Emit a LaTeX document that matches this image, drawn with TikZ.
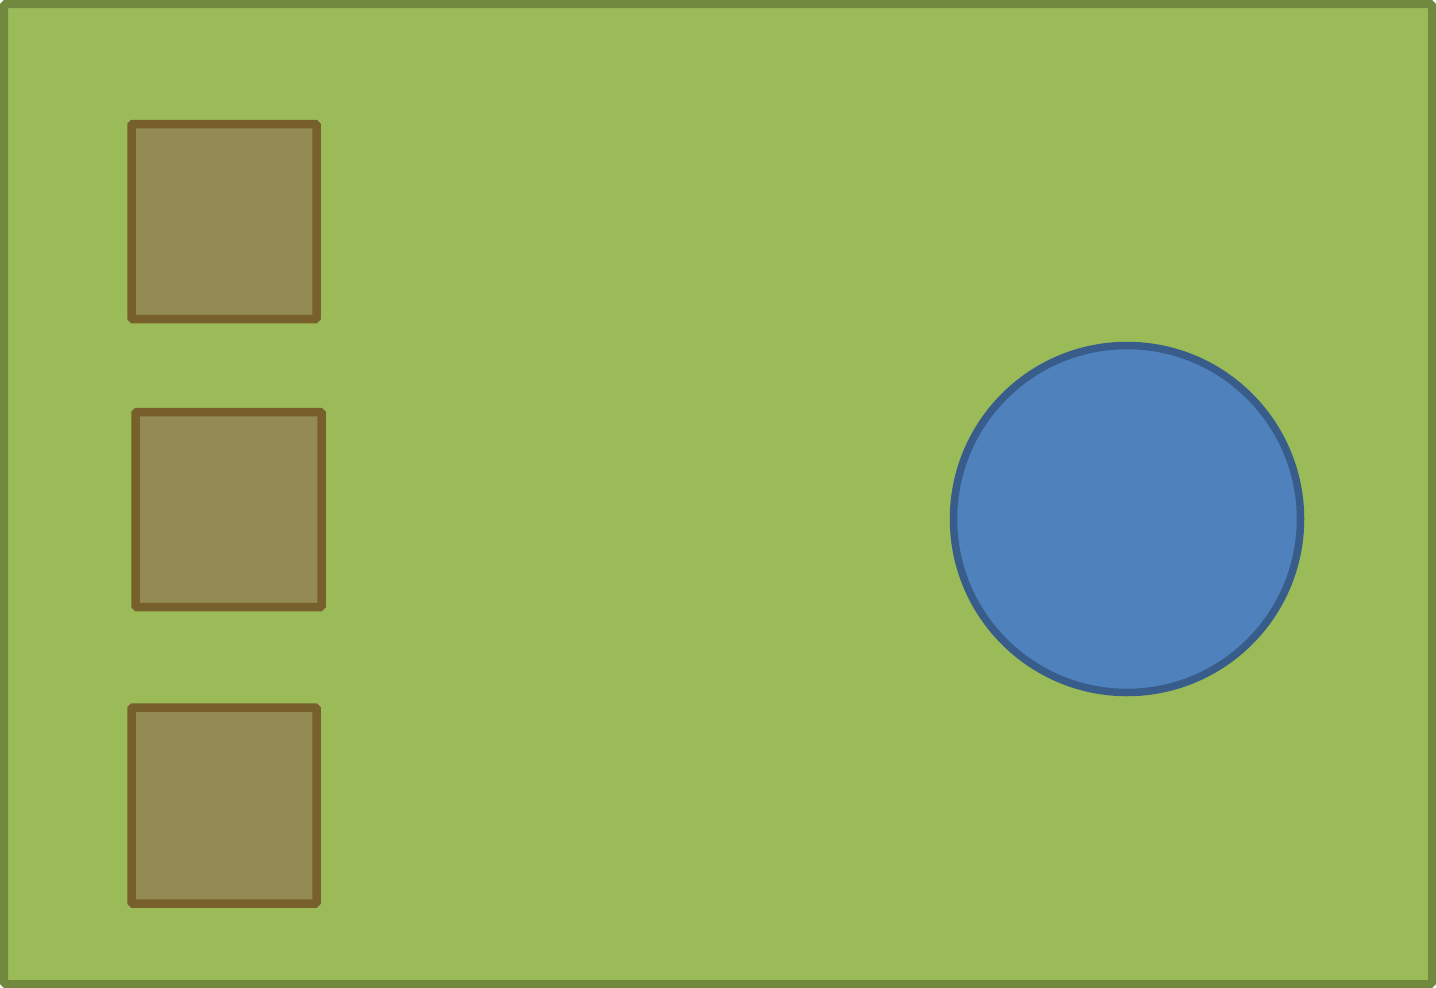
\documentclass[tikz,border=0pt]{standalone}
\definecolor{bggreen}{HTML}{9BBB59}
\definecolor{bgedge}{HTML}{71893F}
\definecolor{boxfill}{HTML}{948A54}
\definecolor{boxedge}{HTML}{77602B}
\definecolor{circfill}{HTML}{4F81BD}
\definecolor{circedge}{HTML}{385D8A}
\tikzset{
  field/.style={fill=bggreen, draw=bgedge, line width=8pt, rounded corners=1.5pt},
  crate/.style={fill=boxfill, draw=boxedge, line width=8.5pt, rounded corners=1.5pt},
  pond/.style={fill=circfill, draw=circedge, line width=7.5pt}
}
\begin{document}
\begin{tikzpicture}[x=1pt,y=-1pt]
\useasboundingbox (0,0) rectangle (1436,988);
\draw[field] (4,4) rectangle (1432,984);
\draw[crate] (131.5,124) rectangle (316.5,319);
\draw[crate] (135.5,412) rectangle (321.5,607);
\draw[crate] (131.5,707.5) rectangle (316.5,903.5);
\draw[pond] (1127,519) circle[radius=173.5];
\end{tikzpicture}
\end{document}
